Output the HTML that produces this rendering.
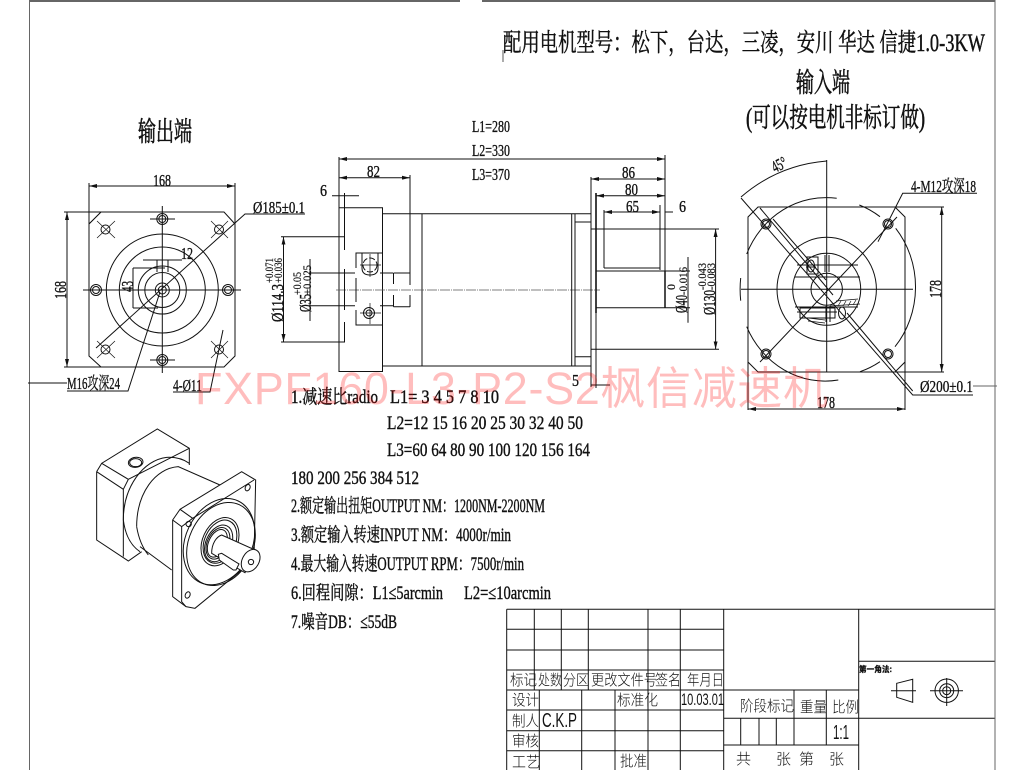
<!DOCTYPE html>
<html><head><meta charset="utf-8"><style>
html,body{margin:0;padding:0;background:#fff;width:1024px;height:770px;overflow:hidden}
svg{display:block}
.l{stroke:#111;stroke-width:1;fill:none}
.th{stroke:#111;stroke-width:.7;fill:none}
.d{stroke:#111;stroke-width:1;fill:none;stroke-dasharray:12 4}
.c{stroke:#555;stroke-width:.7;fill:none;stroke-dasharray:10 1 1 1}
.g{stroke:#666;stroke-width:1;fill:none}
text{font-family:"Liberation Serif","Noto Serif CJK SC",serif;fill:#111;stroke:#111;stroke-width:.35}
.s{font-size:17px}.xs{font-size:12px;stroke-width:.2}.nt{font-size:19px;stroke-width:.4}.big{font-size:27px;stroke-width:.6}
.tb{font-family:"Liberation Sans","Noto Sans CJK SC",sans-serif;font-size:15px;font-weight:300;stroke-width:0}
</style></head><body>
<svg width="1024" height="770" viewBox="0 0 1024 770" xmlns="http://www.w3.org/2000/svg">
<defs><marker id="a" viewBox="0 0 8 4" refX="8" refY="2" markerWidth="8" markerHeight="4" markerUnits="userSpaceOnUse" orient="auto-start-reverse"><path d="M0 0L8 2L0 4z" fill="#111"/></marker></defs>

<!-- frame -->
<path d="M30 1H460M482 1H995" stroke="#666" stroke-width="2" fill="none"/>
<path d="M29.500 0V770M995 0V770" class="g"/>
<path d="M503 50V62" class="th"/>

<!-- headings -->
<text x="503" y="51" textLength="482" lengthAdjust="spacingAndGlyphs" style="font-size:25px;stroke-width:.45">配用电机型号：松下，台达，三凌，安川 华达 信捷1.0-3KW</text>
<text x="796" y="92" class="big" textLength="54" lengthAdjust="spacingAndGlyphs">输入端</text>
<text x="746" y="127" class="big" textLength="179" lengthAdjust="spacingAndGlyphs">(可以按电机非标订做)</text>
<text x="138" y="141" class="big" textLength="54" lengthAdjust="spacingAndGlyphs">输出端</text>
<text x="472" y="132" class="s" textLength="38" lengthAdjust="spacingAndGlyphs">L1=280</text>
<text x="472" y="156" class="s" textLength="38" lengthAdjust="spacingAndGlyphs">L2=330</text>
<text x="472" y="180" class="s" textLength="38" lengthAdjust="spacingAndGlyphs">L3=370</text>

<!-- LEFT VIEW -->
<path class="l" d="M101 212H224L235 224V356L224 367H101L89 356V224Z"/>
<path class="th" d="M89 224L101 212"/>
<path class="l" d="M89 183V224M235 183V224M64 212H101M64 367H101"/>
<path class="l" d="M89 186H235" marker-start="url(#a)" marker-end="url(#a)"/>
<path class="l" d="M67 212V367" marker-start="url(#a)" marker-end="url(#a)"/>
<text x="153" y="186" class="s" textLength="18" lengthAdjust="spacingAndGlyphs">168</text>
<text transform="translate(66 299) rotate(-90)" class="s" textLength="18" lengthAdjust="spacingAndGlyphs">168</text>
<g class="l">
<circle cx="162.300" cy="290" r="56"/><circle cx="162.300" cy="290" r="43"/><circle cx="162.300" cy="290" r="24"/><circle cx="162.300" cy="290" r="17.500"/><circle cx="162.300" cy="290" r="7"/><circle cx="162.300" cy="290" r="4"/>
<circle cx="162.300" cy="219" r="5.500"/><circle cx="162.300" cy="219" r="3.500"/>
<circle cx="162.300" cy="360" r="5.500"/><circle cx="162.300" cy="360" r="3.500"/>
<circle cx="96" cy="290" r="5.500"/><circle cx="96" cy="290" r="3.500"/>
<circle cx="228" cy="290" r="5.500"/><circle cx="228" cy="290" r="3.500"/>
<circle cx="105.500" cy="229.500" r="4.500"/><circle cx="219" cy="229.500" r="4.500"/><circle cx="105.500" cy="349.500" r="4.500"/><circle cx="219" cy="349.500" r="4.500"/>
</g>
<path class="l" d="M83 290H241M162.300 206V373M150 219H175M150 360H175"/>
<path class="th" d="M97 221L115 238M115 221L97 238M211 221L228 238M228 221L211 238M97 341L115 358M115 341L97 358M211 341L228 358M228 341L211 358"/>
<path class="l" d="M96 348L245 214H305"/>
<text x="253" y="213" class="s" textLength="52" lengthAdjust="spacingAndGlyphs">Ø185±0.1</text>
<path class="l" d="M143 260H182M157 260V272M168 260V272"/>
<text x="181" y="259" class="s" textLength="12" lengthAdjust="spacingAndGlyphs">12</text>
<path class="l" d="M133 268V308M133 268H165M133 308H158"/>
<text transform="translate(133 292) rotate(-90)" class="s" textLength="11" lengthAdjust="spacingAndGlyphs">43</text>
<path class="l" d="M28 383H67M67 391H128L160 292"/>
<text x="67" y="389" class="s" textLength="53" lengthAdjust="spacingAndGlyphs">M16攻深24</text>
<path class="l" d="M173 392H210L223 330"/>
<text x="173" y="391" class="s" textLength="29" lengthAdjust="spacingAndGlyphs">4-Ø11</text>

<!-- MIDDLE VIEW -->
<path class="l" d="M339 157V371.500H382.500V207.700H339M382 213.700H591M382 366H591M422 213.700V366"/>
<path class="c" d="M336 290H600"/>
<path class="l" d="M339 159H665" marker-start="url(#a)" marker-end="url(#a)"/>
<path class="l" d="M339 177.700H410" marker-start="url(#a)" marker-end="url(#a)"/>
<text x="367" y="177" class="s" textLength="13" lengthAdjust="spacingAndGlyphs">82</text>
<path class="l" d="M410 175V285M410 295V307M393.500 273H410M393.500 306.700H410M393.500 273V284M393.500 295V306.700"/>
<path class="l" d="M332 195.700H359M344.500 193V250M344.500 269V310M344.500 322V342"/>
<text x="320" y="196" class="s" textLength="7" lengthAdjust="spacingAndGlyphs">6</text>
<path class="l" d="M281 236.700H345M281 342H345"/>
<path class="l" d="M283.500 236.700V342" marker-start="url(#a)" marker-end="url(#a)"/>
<text transform="translate(283 322) rotate(-90)" class="s" textLength="38" lengthAdjust="spacingAndGlyphs">Ø114.3</text>
<text transform="translate(273 283) rotate(-90)" class="xs" textLength="25" lengthAdjust="spacingAndGlyphs">+0.071</text>
<text transform="translate(282 283) rotate(-90)" class="xs" textLength="25" lengthAdjust="spacingAndGlyphs">+0.036</text>
<path class="l" d="M309 273H355M380 273H393M309 305.700H355M380 305.700H393M310 259V321"/>
<text transform="translate(311 312) rotate(-90)" class="s" textLength="18" lengthAdjust="spacingAndGlyphs">Ø35</text>
<text transform="translate(301 295) rotate(-90)" class="xs" textLength="23" lengthAdjust="spacingAndGlyphs">+0.05</text>
<text transform="translate(311 295) rotate(-90)" class="xs" textLength="30" lengthAdjust="spacingAndGlyphs">+0.025</text>
<path class="l" d="M382 253H356V268M356 278V302M356 310V325H382"/>
<path class="l" d="M362 253V268Q362 275 370 275Q378 275 378 268V253"/>
<circle class="l" cx="370" cy="265" r="7" style="stroke-dasharray:6 2"/>
<path class="th" d="M360 265H381M370 254V277M360 313H381M370 303V324"/>
<circle class="l" cx="369" cy="313" r="5.500"/><circle class="l" cx="369" cy="313" r="3"/>

<!-- right end of middle view -->
<path class="l" d="M571.700 213.700V366M575 213.700V366M575 222H591M575 356.700H591M591 177V387"/>
<path d="M596 193V313" stroke="#111" stroke-width="1.600" fill="none"/>
<path class="l" d="M596 313V388M591 385H610"/>
<text x="572" y="386" class="s" textLength="7" lengthAdjust="spacingAndGlyphs">5</text>
<path class="l" d="M591 179H665" marker-start="url(#a)" marker-end="url(#a)"/>
<path class="l" d="M596 195.700H665" marker-start="url(#a)" marker-end="url(#a)"/>
<path class="l" d="M604 212H660" marker-start="url(#a)" marker-end="url(#a)"/>
<path class="l" d="M665 212H673"/>
<text x="622" y="178" class="s" textLength="13" lengthAdjust="spacingAndGlyphs">86</text>
<text x="625" y="195" class="s" textLength="13" lengthAdjust="spacingAndGlyphs">80</text>
<text x="626" y="212" class="s" textLength="13" lengthAdjust="spacingAndGlyphs">65</text>
<text x="679" y="212" class="s" textLength="7" lengthAdjust="spacingAndGlyphs">6</text>
<path class="l" d="M604 210V268M660 205V270M665 155V271M604 268H660M596 271H690M596 307.700H690"/>
<path d="M665 271V308" stroke="#111" stroke-width="1.500" fill="none"/>
<path class="l" d="M591 229H719M591 349.300H719"/>
<path class="l" d="M715.600 229V349.300" marker-start="url(#a)" marker-end="url(#a)"/>
<path class="l" d="M688 257V322.700"/>
<text transform="translate(715 315) rotate(-90)" class="s" textLength="25" lengthAdjust="spacingAndGlyphs">Ø130</text>
<text transform="translate(715 290) rotate(-90)" class="xs" textLength="27" lengthAdjust="spacingAndGlyphs">-0.083</text>
<text transform="translate(706 290) rotate(-90)" class="xs" textLength="27" lengthAdjust="spacingAndGlyphs">-0.043</text>
<text transform="translate(687 313) rotate(-90)" class="s" textLength="18" lengthAdjust="spacingAndGlyphs">Ø40</text>
<text transform="translate(687 295) rotate(-90)" class="xs" textLength="28" lengthAdjust="spacingAndGlyphs">-0.016</text>
<text transform="translate(675 290) rotate(-90)" class="xs" textLength="6" lengthAdjust="spacingAndGlyphs">0</text>

<!-- RIGHT VIEW -->
<path class="l" d="M758 207H895L905 217V362L895 372H758L748 362V217Z"/>
<path class="l" d="M748 217V410M905 217V410M895 207H944M826 372H944"/>
<path class="l" d="M941.700 207V372" marker-start="url(#a)" marker-end="url(#a)"/>
<path class="l" d="M748 409H905" marker-start="url(#a)" marker-end="url(#a)"/>
<text transform="translate(941 298) rotate(-90)" class="s" textLength="18" lengthAdjust="spacingAndGlyphs">178</text>
<text x="817" y="408" class="s" textLength="18" lengthAdjust="spacingAndGlyphs">178</text>
<g class="l">
<ellipse cx="826.700" cy="289.300" rx="49.700" ry="52"/>
<ellipse cx="826.700" cy="289.300" rx="34" ry="36"/>
<ellipse cx="826.700" cy="289.300" rx="15.700" ry="16"/>
<path d="M746.700 254A86 92 0 0 1 836.700 198.300M859.300 205A86 92 0 0 1 880 216.700M895.700 228.300A86 92 0 0 1 895 346.700M880 361.700A86 92 0 0 1 860 371.700M838.300 380A86 92 0 0 1 746.700 326.700M740.700 278Q739.500 289 740.700 300.700"/>
<circle cx="766" cy="224" r="5"/><circle cx="766" cy="224" r="3.500"/>
<circle cx="888" cy="224" r="5"/><circle cx="888" cy="224" r="3.500"/>
<circle cx="766" cy="354" r="5"/><circle cx="766" cy="354" r="3.500"/>
<circle cx="888" cy="354" r="5"/><circle cx="888" cy="354" r="3.500"/>
</g>
<path class="l" d="M826.700 160V372M741 289.300H913M741 198L912.700 395H973M760 208L833 295M897 217L760 362"/>
<path class="l" d="M847 313L912.700 391M773 219L826 280"/>
<path class="l" d="M741 197Q778 165 826.700 161"/>
<text transform="translate(775 173) rotate(-27)" class="s" textLength="15" lengthAdjust="spacingAndGlyphs">45°</text>
<path class="l" d="M878 241.700L902.700 193.300H977"/>
<text x="911" y="192" class="s" textLength="65" lengthAdjust="spacingAndGlyphs">4-M12攻深18</text>
<text x="920" y="392" class="s" textLength="53" lengthAdjust="spacingAndGlyphs">Ø200±0.1</text>
<path class="g" d="M973 386H997"/>
<!-- hub detail -->
<path class="l" d="M797 265H858M795 277H860M795 307H858M797 312H837M807 257H818V274H807ZM825 255V272M829 255V272M806 267H816"/>
<ellipse class="l" cx="811" cy="266" rx="3.500" ry="6"/>
<path class="l" d="M800 308H835V318H800ZM826 306V322M830 306V322"/>
<ellipse class="l" cx="842" cy="313" rx="3.500" ry="6"/>
<path class="th" d="M836 301L858 299M830 306L860 304M808 318L825 320M808 321L825 323M838 306L841 301M843 306L846 301M848 306L851 301M853 305L856 300"/>

<!-- ISOMETRIC -->
<g transform="translate(80 420) scale(.3333)" fill="none" stroke="#111" stroke-width="3">
<path d="M50 155L65 130L232 27L328 85V135"/>
<path d="M50 155V360L145 423L185 395M50 155L130 208V410M65 130L145 178L130 208M145 178L328 85"/>
<ellipse cx="167" cy="127" rx="22" ry="15" transform="rotate(-8 167 127)"/>
<ellipse cx="167" cy="128" rx="18" ry="12"/>
<path d="M130 300C130 200 190 120 260 112Q300 110 328 130"/>
<path d="M170 320C170 220 225 145 295 140L420 195M180 380L275 450M130 300C135 340 150 375 180 395"/>
<path d="M170 320C175 350 185 380 205 405"/>
<path d="M300 268L485 155L527 180L522 420L345 565L318 560L278 530V300Z" fill="#fff"/>
<path d="M278 300L305 320V545L318 560M305 320L338 295L522 180M300 268L338 295"/>
<circle cx="326" cy="312" r="8"/><ellipse cx="503" cy="203" rx="7" ry="10" transform="rotate(25 503 203)"/><ellipse cx="323" cy="525" rx="7" ry="10" transform="rotate(25 323 525)"/>
<ellipse cx="417" cy="365" rx="100" ry="135" transform="rotate(25 417 365)"/>
<ellipse cx="423" cy="372" rx="96" ry="130" transform="rotate(25 423 372)"/>
<ellipse cx="420" cy="365" rx="52" ry="76" transform="rotate(25 420 365)"/>
<ellipse cx="420" cy="365" rx="46" ry="68" transform="rotate(25 420 365)"/>
<ellipse cx="416" cy="370" rx="38" ry="58" transform="rotate(25 416 370)"/>
<ellipse cx="414" cy="370" rx="32" ry="50" transform="rotate(25 414 370)"/>
<ellipse cx="412" cy="370" rx="26" ry="44" transform="rotate(25 412 370)"/>
<path d="M425 345L530 392L495 458L395 400C395 370 410 350 425 345Z" fill="#fff"/>
<ellipse cx="512" cy="422" rx="25" ry="36" transform="rotate(30 512 422)" fill="#fff"/>
<circle cx="513" cy="426" r="8"/>
<path d="M415 403L425 400L477 432L468 450L460 450L418 420Z" fill="#fff"/>
</g>

<!-- NOTES -->
<text x="291" y="403" class="nt" textLength="87" lengthAdjust="spacingAndGlyphs">1.减速比radio</text>
<text x="390" y="403" class="nt" textLength="109" lengthAdjust="spacingAndGlyphs">L1= 3 4 5 7 8 10</text>
<text x="387" y="429" class="nt" textLength="196" lengthAdjust="spacingAndGlyphs">L2=12 15 16 20 25 30 32 40 50</text>
<text x="387" y="456" class="nt" textLength="203" lengthAdjust="spacingAndGlyphs">L3=60 64 80 90 100 120 156 164</text>
<text x="291" y="484" class="nt" textLength="128" lengthAdjust="spacingAndGlyphs">180 200 256 384 512</text>
<text x="291" y="512" class="nt" textLength="254" lengthAdjust="spacingAndGlyphs">2.额定输出扭矩OUTPUT NM：1200NM-2200NM</text>
<text x="291" y="541" class="nt" textLength="220" lengthAdjust="spacingAndGlyphs">3.额定输入转速INPUT NM：4000r/min</text>
<text x="291" y="570" class="nt" textLength="233" lengthAdjust="spacingAndGlyphs">4.最大输入转速OUTPUT RPM：7500r/min</text>
<text x="291" y="599" class="nt" textLength="152" lengthAdjust="spacingAndGlyphs">6.回程间隙：L1≤5arcmin</text>
<text x="464" y="599" class="nt" textLength="87" lengthAdjust="spacingAndGlyphs">L2=≤10arcmin</text>
<text x="291" y="628" class="nt" textLength="106" lengthAdjust="spacingAndGlyphs">7.噪音DB：≤55dB</text>

<!-- TITLE BLOCK -->
<g class="l">
<path d="M506.700 609.300H994.500M506.700 629.300H723.700M506.700 650H723.700M506.700 670H723.700M506.700 690H858.700M506.700 710H723.700M506.700 730.700H723.700M506.700 750.700H723.700"/>
<path d="M506.700 609.300V770M534.300 609.300V690M561.300 609.300V690M588.300 609.300V690M648 609.300V770M680.300 609.300V770M723.700 609.300V770"/>
<path d="M539.300 690V770M581.700 690V770M615 690V770"/>
<path d="M723.700 718.300H994.500M723.700 745H858.700M858.700 609.300V770M858.700 661.300H994.500"/>
<path d="M794 690V745M826.300 690V745M740.700 718.300V745M759 718.300V745M776.300 718.300V745"/>
</g>
<text class="tb" x="510" y="685" textLength="27" lengthAdjust="spacingAndGlyphs">标记</text>
<text class="tb" x="538" y="685" textLength="24" lengthAdjust="spacingAndGlyphs">处数</text>
<text class="tb" x="563" y="685" textLength="26" lengthAdjust="spacingAndGlyphs">分区</text>
<text class="tb" x="591" y="685" textLength="66" lengthAdjust="spacingAndGlyphs">更改文件号</text>
<text class="tb" x="655" y="685" textLength="26" lengthAdjust="spacingAndGlyphs">签名</text>
<text class="tb" x="687" y="685" textLength="37" lengthAdjust="spacingAndGlyphs">年月日</text>
<text class="tb" x="512" y="705" textLength="27" lengthAdjust="spacingAndGlyphs">设计</text>
<text class="tb" x="617" y="705" textLength="41" lengthAdjust="spacingAndGlyphs">标准化</text>
<text class="tb" x="681" y="705" textLength="43" lengthAdjust="spacingAndGlyphs" style="font-size:17px">10.03.01</text>
<text class="tb" x="512" y="726" textLength="27" lengthAdjust="spacingAndGlyphs">制人</text>
<text class="tb" x="542" y="727" textLength="35" lengthAdjust="spacingAndGlyphs" style="font-size:20px">C.K.P</text>
<text class="tb" x="512" y="746" textLength="27" lengthAdjust="spacingAndGlyphs">审核</text>
<text class="tb" x="512" y="767" textLength="28" lengthAdjust="spacingAndGlyphs">工艺</text>
<text class="tb" x="620" y="766" textLength="27" lengthAdjust="spacingAndGlyphs">批准</text>
<text class="tb" x="740" y="711" textLength="54" lengthAdjust="spacingAndGlyphs">阶段标记</text>
<text class="tb" x="800" y="712" textLength="27" lengthAdjust="spacingAndGlyphs">重量</text>
<text class="tb" x="832" y="712" textLength="27" lengthAdjust="spacingAndGlyphs">比例</text>
<text class="tb" x="833" y="739" textLength="16" lengthAdjust="spacingAndGlyphs" style="font-size:20px">1:1</text>
<text class="tb" x="736" y="764">共</text>
<text class="tb" x="776" y="764">张</text>
<text class="tb" x="799" y="764">第</text>
<text class="tb" x="829" y="764">张</text>
<text x="859" y="672" style="font-size:8px;font-weight:bold;font-family:'Liberation Sans','Noto Sans CJK SC',sans-serif" textLength="33" lengthAdjust="spacingAndGlyphs">第一角法:</text>
<path class="l" d="M896.700 683.300L912.700 679.300V702.300L896.700 697.300ZM891 690.700H916"/>
<g class="l"><circle cx="946.700" cy="690.700" r="11.700"/><circle cx="946.700" cy="690.700" r="7"/><circle cx="946.700" cy="690.700" r="4"/><path d="M930 690.700H963M946.700 678V706"/></g>

<!-- WATERMARK -->
<text x="195" y="404" style="font-family:'Liberation Sans','Noto Sans CJK SC',sans-serif;font-size:45px;fill:#ff0000;fill-opacity:.26;stroke:none" textLength="633" lengthAdjust="spacing">FXPF160-L3-P2-S2枫信减速机</text>
</svg>
</body></html>
